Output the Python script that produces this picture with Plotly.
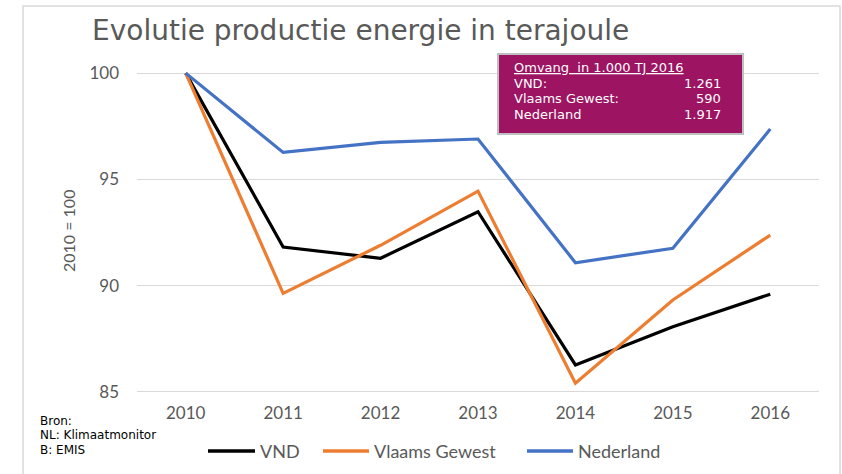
import plotly.graph_objects as go

years = ["2010", "2011", "2012", "2013", "2014", "2015", "2016"]
vnd = [100, 91.82, 91.29, 93.48, 86.27, 88.07, 89.60]
vlaams = [100, 89.64, 91.90, 94.45, 85.41, 89.33, 92.38]
nederland = [100, 96.27, 96.74, 96.90, 91.08, 91.76, 97.37]

series_names = ["VND", "Vlaams Gewest", "Nederland"]
series_colors = ["#000000", "#ED7D31", "#4472C4"]

box_title = "Omvang\u00a0 in 1.000 TJ 2016"
box_labels = ["VND:", "Vlaams Gewest:", "Nederland"]
box_values = ["1.261", "590", "1.917"]

source_lines = ["Bron:", "NL: Klimaatmonitor", "B: EMIS"]

W, H = 842, 474
L, R, T, B = 137, 23, 71, 81
PW, PH = W - L - R, H - T - B


def px_x(p):
    return (p - L) / PW


def px_y(p):
    return (T + PH - p) / PH


fig = go.Figure()
for name, vals, col in zip(series_names, [vnd, vlaams, nederland], series_colors):
    fig.add_trace(go.Scatter(x=years, y=vals, mode="lines", name=name,
                             line=dict(color=col, width=3.2), showlegend=False))

tick_font = dict(family="Lato, Liberation Sans, sans-serif", size=17, color="#595959")

fig.update_layout(
    width=W, height=H,
    margin=dict(l=L, r=R, t=T, b=B, autoexpand=False),
    paper_bgcolor="white", plot_bgcolor="white",
    showlegend=False,
    xaxis=dict(type="category", range=[-0.5, 6.5], showgrid=False, showline=False,
               zeroline=False, tickfont=tick_font, ticks="", ticklabelstandoff=8),
    yaxis=dict(range=[84.95, 100.1], tickvals=[85, 90, 95, 100], showgrid=True,
               gridcolor="#D9D9D9", gridwidth=1, zeroline=False, showline=False,
               tickfont=tick_font, ticks="", ticklabelstandoff=17),
)

# title
fig.add_annotation(text="Evolutie productie energie in terajoule", xref="paper", yref="paper",
                   x=px_x(90), y=px_y(31), xanchor="left", yanchor="middle", showarrow=False,
                   font=dict(family="DejaVu Sans, sans-serif", size=28, color="#595959"))

# y axis title
fig.add_annotation(text="2010 = 100", xref="paper", yref="paper", x=px_x(68), y=px_y(231),
                   textangle=-90, showarrow=False, xanchor="center", yanchor="middle",
                   font=dict(family="Lato, Liberation Sans, sans-serif", size=16, color="#595959"))

# source note
src_font = dict(family="DejaVu Sans, sans-serif", size=12, color="#000000")
for i, line in enumerate(source_lines):
    fig.add_annotation(text=line, xref="paper", yref="paper",
                       x=px_x(38), y=px_y(421 + 14.3 * i), xanchor="left", yanchor="middle",
                       showarrow=False, font=src_font)

# legend (drawn manually)
legend_font = dict(family="Lato, Liberation Sans, sans-serif", size=18, color="#595959")
legend_line_x = [(208, 255), (323, 369), (527, 573)]
for name, col, (a, b) in zip(series_names, series_colors, legend_line_x):
    fig.add_shape(type="line", xref="paper", yref="paper", x0=px_x(a), x1=px_x(b),
                  y0=px_y(451), y1=px_y(451), line=dict(color=col, width=3.5))
    fig.add_annotation(text=name, xref="paper", yref="paper", x=px_x(b + 3), y=px_y(451),
                       xanchor="left", yanchor="middle", showarrow=False, font=legend_font)

# outer frame
fig.add_shape(type="rect", xref="paper", yref="paper", x0=px_x(23), x1=px_x(840),
              y0=px_y(490), y1=px_y(6), line=dict(color="#D9D9D9", width=1.5), layer="below")

# info box
fig.add_shape(type="rect", xref="paper", yref="paper", x0=px_x(498), x1=px_x(743),
              y0=px_y(134), y1=px_y(54), fillcolor="#9C1462",
              line=dict(color="#BFBFBF", width=2))
box_font = dict(family="DejaVu Sans, sans-serif", size=13, color="white")
fig.add_annotation(text="<u>" + box_title + "</u>", xref="paper", yref="paper",
                   x=px_x(512), y=px_y(68), xanchor="left", yanchor="middle",
                   showarrow=False, font=box_font)
for i, (lab, val) in enumerate(zip(box_labels, box_values)):
    yy = px_y(83.5 + 15.3 * i)
    fig.add_annotation(text=lab, xref="paper", yref="paper", x=px_x(512), y=yy,
                       xanchor="left", yanchor="middle", showarrow=False, font=box_font)
    fig.add_annotation(text=val, xref="paper", yref="paper", x=px_x(723), y=yy,
                       xanchor="right", yanchor="middle", showarrow=False, font=box_font)

fig.write_html("out.html", config={"displayModeBar": False},
               post_script="document.body.style.margin='0';")
